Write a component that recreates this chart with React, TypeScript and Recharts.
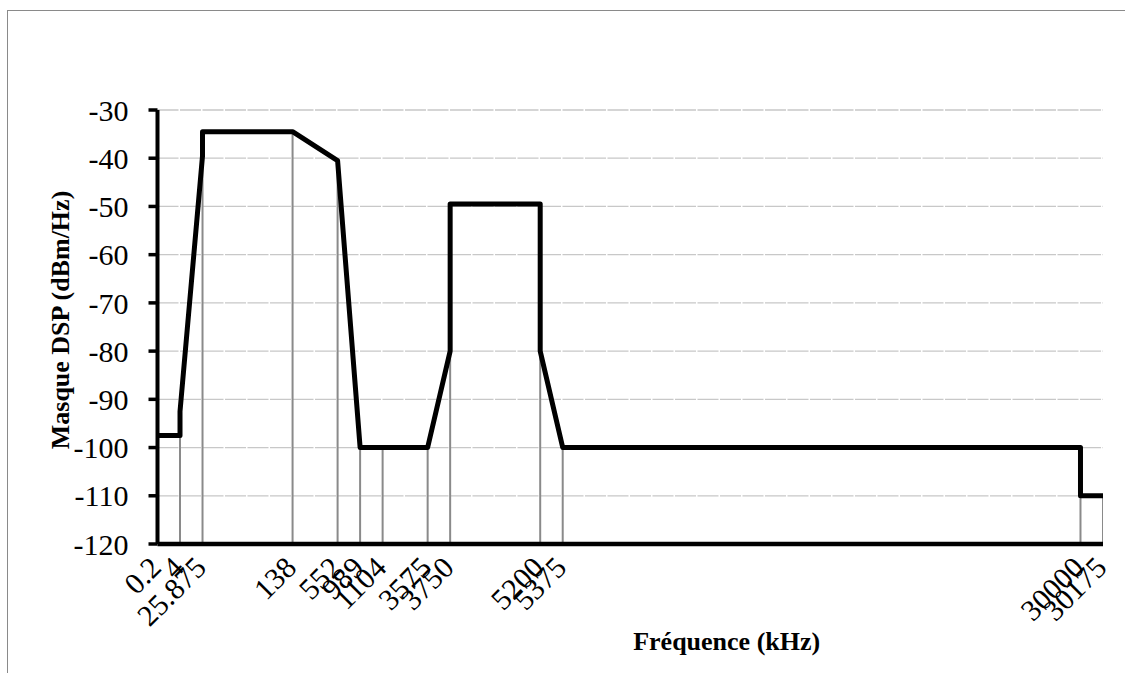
import React from 'react';
import { LineChart, Line, XAxis, YAxis, CartesianGrid, Label } from 'recharts';

// Category slots (Excel category axis positions) and their frequency labels (kHz)
const slotIndex = [0, 1, 2, 6, 8, 9, 10, 12, 13, 17, 18, 41, 42];
const freqLabels = ['0.2', '4', '25.875', '138', '552', '989', '1104', '3575', '3750', '5200', '5375', '30000', '30175'];

// PSD mask polyline (slot, dBm/Hz)
const maskSlots = [0, 1, 1, 2, 2, 6, 8, 9, 10, 12, 13, 13, 17, 17, 18, 41, 41, 42];
const maskValues = [-97.5, -97.5, -92.5, -39.5, -34.5, -34.5, -40.5, -100, -100, -100, -80, -49.5, -49.5, -80, -100, -100, -110, -110];

// Drop-line top value at each labelled slot
const dropTops = [-97.5, -97.5, -39.5, -34.5, -40.5, -100, -100, -100, -80, -80, -100, -110, -110];

const yTicks = [-120, -110, -100, -90, -80, -70, -60, -50, -40, -30];

const maskData = maskSlots.map((x, i) => ({ x, y: maskValues[i] }));
const dropData = slotIndex.flatMap((x, i) => [
  { x, y: -120 },
  { x, y: dropTops[i] },
  { x, y: null as number | null },
]);

const FONT = '"Liberation Serif", "Times New Roman", serif';

const XTick = (props: any) => {
  const { x, y, payload } = props;
  const idx = slotIndex.indexOf(payload.value);
  const label = idx >= 0 ? freqLabels[idx] : '';
  return (
    <g transform={`translate(${x - 2},${y + 18})`}>
      <text transform="rotate(-45)" textAnchor="end" dy="0.35em" fontSize={30} fontFamily={FONT} fill="#000">
        {label}
      </text>
    </g>
  );
};

const YTitle = (props: any) => {
  const vb = props.viewBox || { x: 0, y: 0, width: 0, height: 0 };
  const cx = vb.x + 2.5;
  const cy = vb.y + vb.height / 2 - 7;
  return (
    <text x={cx} y={cy} transform={`rotate(-90, ${cx}, ${cy})`} textAnchor="middle" dy="0.35em" fontSize={26} fontWeight="bold" fontFamily={FONT} fill="#000">
      Masque DSP (dBm/Hz)
    </text>
  );
};

const XTitle = (props: any) => {
  const vb = props.viewBox || { x: 0, y: 0, width: 0, height: 0 };
  const cx = vb.x + vb.width * 0.602;
  const cy = vb.y + 97;
  return (
    <text x={cx} y={cy} textAnchor="middle" dy="0.35em" fontSize={26} fontWeight="bold" fontFamily={FONT} fill="#000">
      Fréquence (kHz)
    </text>
  );
};

export default function App() {
  return (
    <div style={{ position: 'fixed', left: 0, top: 0, width: 1125, height: 673, background: '#fff', overflow: 'hidden' }}>
      <div style={{ position: 'absolute', left: 7, top: 10, width: 1300, height: 900, borderLeft: '1.5px solid #8a8a8a', borderTop: '1.5px solid #8a8a8a' }} />
      <div style={{ position: 'absolute', left: 0, top: 0 }}>
        <LineChart width={1125} height={673} margin={{ top: 110, right: 22, left: 57.5, bottom: 29 }}>
          <CartesianGrid horizontal vertical={false} stroke="#c8c8c8" strokeWidth={1.3} strokeDasharray="21 1.5" />
          <XAxis
            type="number"
            dataKey="x"
            domain={[0, 42]}
            ticks={slotIndex}
            interval={0}
            tickLine={false}
            tickSize={0}
            tickMargin={0}
            axisLine={{ stroke: '#000', strokeWidth: 4.5 }}
            height={100}
            tick={<XTick />}
            allowDataOverflow
          >
            <Label content={<XTitle />} />
          </XAxis>
          <YAxis
            type="number"
            domain={[-120, -30]}
            ticks={yTicks}
            interval={0}
            width={100}
            tickSize={9}
            tickMargin={20}
            tickLine={{ stroke: '#000', strokeWidth: 3.5 }}
            axisLine={{ stroke: '#000', strokeWidth: 4 }}
            tick={{ fontSize: 30, fontFamily: FONT, fill: '#000' }}
          >
            <Label content={<YTitle />} />
          </YAxis>
          <Line
            data={dropData}
            dataKey="y"
            type="linear"
            stroke="#8a8a8a"
            strokeWidth={2}
            dot={false}
            activeDot={false}
            connectNulls={false}
            isAnimationActive={false}
          />
          <Line
            data={maskData}
            dataKey="y"
            type="linear"
            stroke="#000"
            strokeWidth={5}
            strokeLinejoin="round"
            dot={false}
            activeDot={false}
            isAnimationActive={false}
          />
        </LineChart>
      </div>
    </div>
  );
}
